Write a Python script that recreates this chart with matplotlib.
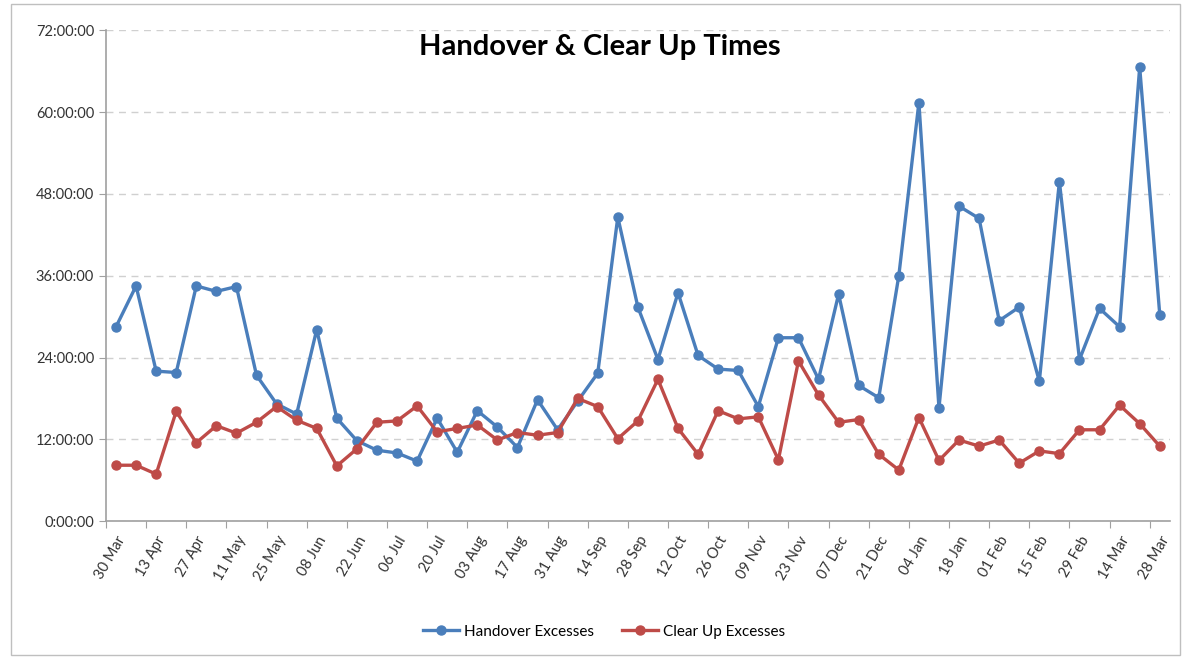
# -*- coding: utf-8 -*-
import numpy as np
import matplotlib
matplotlib.use("Agg")
import matplotlib.pyplot as plt
from matplotlib.lines import Line2D
from matplotlib.patches import Rectangle

plt.rcParams['font.family'] = ['Lato', 'DejaVu Sans']

# weekly values in hours, week commencing 30 Mar ... 28 Mar
handover = [28.5, 34.5, 22.0, 21.8, 34.5, 33.7, 34.4, 21.4, 17.2, 15.7,
            28.1, 15.1, 11.8, 10.4, 10.0, 8.8, 15.1, 10.1, 16.2, 13.8,
            10.8, 17.8, 13.4, 17.6, 21.7, 44.6, 31.4, 23.7, 33.5, 24.3,
            22.3, 22.1, 16.8, 26.9, 26.9, 20.8, 33.3, 19.9, 18.1, 36.0,
            61.4, 16.6, 46.2, 44.4, 29.4, 31.4, 20.5, 49.8, 23.7, 31.2,
            28.5, 66.6, 30.3]
clear_up = [8.2, 8.2, 6.9, 16.1, 11.5, 14.0, 12.9, 14.5, 16.8, 14.8,
            13.6, 8.1, 10.6, 14.5, 14.7, 16.9, 13.1, 13.6, 14.1, 11.9,
            13.0, 12.6, 13.0, 18.0, 16.8, 12.1, 14.7, 20.8, 13.6, 9.8,
            16.2, 15.0, 15.3, 9.0, 23.5, 18.5, 14.5, 14.9, 9.8, 7.5,
            15.2, 8.9, 11.9, 11.0, 11.9, 8.5, 10.3, 9.9, 13.4, 13.4,
            17.0, 14.3, 11.0]
tick_labels = ['30 Mar', '13 Apr', '27 Apr', '11 May', '25 May', '08 Jun',
               '22 Jun', '06 Jul', '20 Jul', '03 Aug', '17 Aug', '31 Aug',
               '14 Sep', '28 Sep', '12 Oct', '26 Oct', '09 Nov', '23 Nov',
               '07 Dec', '21 Dec', '04 Jan', '18 Jan', '01 Feb', '15 Feb',
               '29 Feb', '14 Mar', '28 Mar']
y_ticks = [0, 12, 24, 36, 48, 60, 72]

blue = '#4A7EBB'
red = '#BE4B48'

fig = plt.figure(figsize=(11.84, 6.58), dpi=100)
fig.patches.append(Rectangle((0.009, 0.004), 0.988, 0.99, transform=fig.transFigure,
                             fill=False, edgecolor='#BFBFBF', lw=1.0))
ax = fig.add_axes([0.0895, 0.208, 0.8985, 0.746])

x = np.arange(len(handover))
ax.plot(x, handover, color=blue, lw=2.4, marker='o', ms=6.5, label='Handover Excesses', zorder=3)
ax.plot(x, clear_up, color=red, lw=2.4, marker='o', ms=6.5, label='Clear Up Excesses', zorder=3)

ax.set_xlim(-0.5, len(x) - 0.5)
ax.set_ylim(0, 72)
ax.set_yticks(y_ticks)
ax.set_yticklabels(['%d:00:00' % h for h in y_ticks], fontsize=10.5, color='#333333')
ax.yaxis.grid(True, ls=(0, (5, 4)), color='#D0D0D0', lw=1.0)
ax.set_axisbelow(True)

ax.set_xticks(np.arange(-0.5, len(x) - 1, 2))
ax.set_xticklabels([])
ax.set_xticks(np.arange(0, len(x), 2), minor=True)
ax.set_xticklabels(tick_labels, minor=True, rotation=60, ha='right',
                   rotation_mode='anchor', fontsize=10.5, color='#333333')
ax.tick_params(axis='x', which='major', length=5, color='#A0A0A0', direction='out')
ax.tick_params(axis='x', which='minor', length=0, pad=9)
ax.tick_params(axis='y', length=5, color='#A0A0A0', direction='out')

for s in ['top', 'right']:
    ax.spines[s].set_visible(False)
for s in ['left', 'bottom']:
    ax.spines[s].set_color('#A0A0A0')
    ax.spines[s].set_linewidth(1.2)

fig.text(0.507, 0.928, 'Handover & Clear Up Times', ha='center', va='center',
         fontsize=21, fontweight='bold', color='black')

handles = [Line2D([], [], color=blue, lw=2.4, marker='o', ms=6.5),
           Line2D([], [], color=red, lw=2.4, marker='o', ms=6.5)]
fig.legend(handles, ['Handover Excesses', 'Clear Up Excesses'], loc='center',
           bbox_to_anchor=(0.51, 0.04), ncol=2, frameon=False, fontsize=11,
           handlelength=2.4, columnspacing=1.8, handletextpad=0.3)

fig.savefig('out.png', dpi=100)
